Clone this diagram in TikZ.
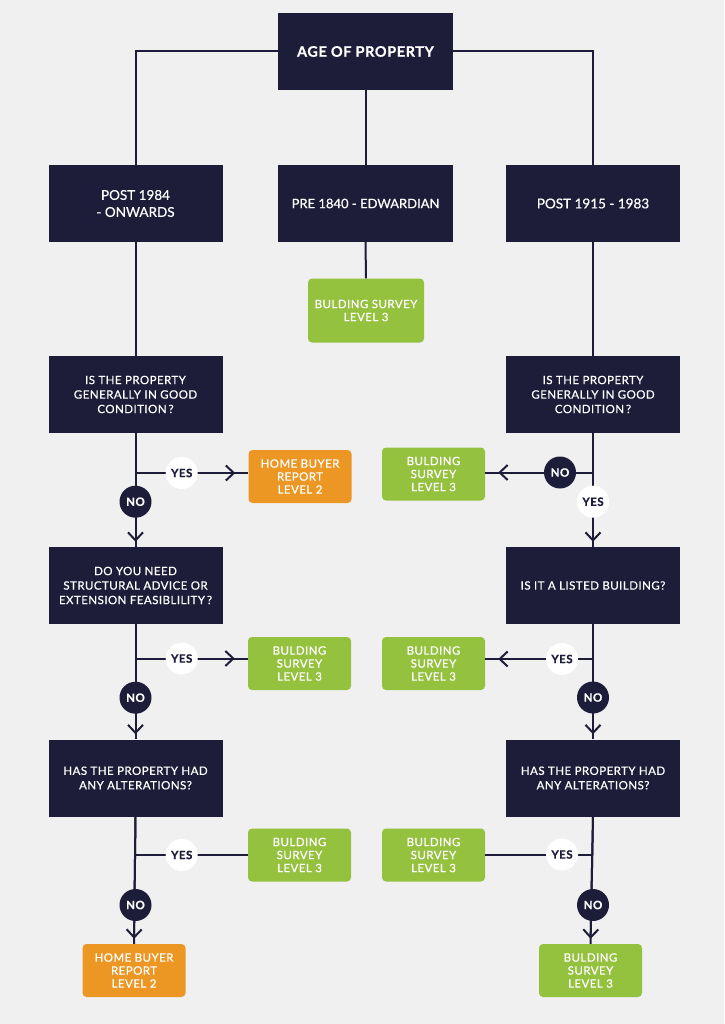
\documentclass[tikz,border=0pt]{standalone}
\usepackage{fontspec}
\setmainfont{Lato}
\newfontfamily\boxfont{Lato}[LetterSpace=4,FakeBold=0.6]
\newfontfamily\topfont{Lato}[FakeBold=0.6]
\usetikzlibrary{arrows.meta}
\definecolor{navy}{HTML}{1D1C39}
\definecolor{lgreen}{HTML}{94C13E}
\definecolor{orng}{HTML}{EC9624}
\definecolor{bgc}{HTML}{F0F0F0}
\tikzset{
  darkbox/.style={fill=navy, text=white, minimum width=174pt, minimum height=77pt, align=center, inner sep=0pt, font=\boxfont\fontsize{11.5}{14.5}\selectfont},
  topbox/.style={darkbox, font=\topfont\fontsize{13.5}{17}\selectfont},
  greenbox/.style={fill=lgreen, text=white, rounded corners=4pt, minimum width=103pt, minimum height=53pt, align=center, inner sep=0pt, font=\boxfont\fontsize{11.5}{13}\selectfont},
  orangebox/.style={greenbox, fill=orng},
  yescirc/.style={circle, fill=white, text=navy, minimum size=32pt, inner sep=0pt, font=\boxfont\bfseries\fontsize{11.5}{12}\selectfont},
  nocirc/.style={yescirc, fill=navy, text=white},
  conn/.style={draw=navy, line width=2pt},
  arrh/.style={postaction={draw=navy, line width=2pt, -{Straight Barb[length=8pt,width=15pt]}, shorten >=13pt}},
  arrv/.style={postaction={draw=navy, line width=2pt, -{Straight Barb[length=8pt,width=15pt]}, shorten >=5pt}}
}
\begin{document}
\begin{tikzpicture}[x=1pt,y=-1pt]
\fill[bgc] (0,0) rectangle (724,1024);
\useasboundingbox (0,0) rectangle (724,1024);

% boxes
\node[darkbox, font=\boxfont\bfseries\fontsize{14.5}{17}\selectfont, minimum width=175pt] (age) at (365.5,51.5) {AGE OF PROPERTY};
\node[topbox] (post84) at (135.5,203.5) {POST 1984\\- ONWARDS};
\node[topbox, minimum width=175pt, font=\topfont\fontsize{13}{17}\selectfont] (pre40) at (365.5,203.5) {PRE 1840 - EDWARDIAN};
\node[topbox] (post15) at (593,203.5) {POST 1915 - 1983};
\node[greenbox, minimum width=116pt, minimum height=64pt] (bs0) at (366,310.5) {BULDING SURVEY\\LEVEL 3};

\node[darkbox] (q1l) at (135.5,394.5) {IS THE PROPERTY\\GENERALLY IN GOOD\\CONDITION\,?};
\node[darkbox] (q1r) at (593,394.5) {IS THE PROPERTY\\GENERALLY IN GOOD\\CONDITION\,?};
\node[orangebox] (hb1) at (300,476.5) {HOME BUYER\\REPORT\\LEVEL 2};
\node[greenbox] (bsr1) at (433.5,474) {BULDING\\SURVEY\\LEVEL 3};

\node[darkbox] (q2l) at (135.5,585.5) {DO YOU NEED\\STRUCTURAL ADVICE OR\\EXTENSION FEASIBLILITY\,?};
\node[darkbox] (q2r) at (593,585.5) {IS IT A LISTED BUILDING?};
\node[greenbox] (bsl2) at (299.5,663.5) {BULDING\\SURVEY\\LEVEL 3};
\node[greenbox] (bsr2) at (433.5,663.5) {BULDING\\SURVEY\\LEVEL 3};

\node[darkbox] (q3l) at (135.5,778) {HAS THE PROPERTY HAD\\ANY ALTERATIONS?};
\node[darkbox] (q3r) at (593,778) {HAS THE PROPERTY HAD\\ANY ALTERATIONS?};
\node[greenbox] (bsl3) at (299.5,855) {BULDING\\SURVEY\\LEVEL 3};
\node[greenbox] (bsr3) at (433.5,855) {BULDING\\SURVEY\\LEVEL 3};

\node[orangebox] (hb4) at (134,970.5) {HOME BUYER\\REPORT\\LEVEL 2};
\node[greenbox] (bsr4) at (590.5,970.5) {BULDING\\SURVEY\\LEVEL 3};

% junctions
\coordinate (j1l) at (135.5,473);
\coordinate (j1r) at (593,472.5);
\coordinate (j2l) at (135.5,658.5);
\coordinate (j2r) at (593,659);
\coordinate (j3l) at (135.5,855);
\coordinate (j3r) at (593,854.5);

% connectors
\draw[conn] (age.west) -| (post84.north);
\draw[conn] (age.east) -| (post15.north);
\draw[conn] (age.south) -- (pre40.north);
\draw[conn] (pre40.south) -- (bs0.north);
\draw[conn] (post84.south) -- (q1l.north);
\draw[conn] (post15.south) -- (q1r.north);

\draw[conn, arrv] (q1l.south) -- (q2l.north);
\draw[conn, arrv] (q2l.south) -- (q3l.north);
\draw[conn, arrv] (q3l.south) -- (hb4.north);
\draw[conn, arrv] (q1r.south) -- (q2r.north);
\draw[conn, arrv] (q2r.south) -- (q3r.north);
\draw[conn, arrv] (q3r.south) -- (bsr4.north);

\draw[conn, arrh] (j1l) -- (hb1.west |- j1l);
\draw[conn, arrh] (j1r) -- (bsr1.east |- j1r);
\draw[conn, arrh] (j2l) -- (bsl2.west |- j2l);
\draw[conn, arrh] (j2r) -- (bsr2.east |- j2r);
\draw[conn] (j3l) -- (bsl3.west |- j3l);
\draw[conn] (j3r) -- (bsr3.east |- j3r);

% labels
\node[yescirc] (y1l) at (181.7,473) {YES};
\node[nocirc] (n1l) at (135.5,501.7) {NO};
\node[nocirc] (n1r) at (560,472.5) {NO};
\node[yescirc] (y1r) at (593,501.7) {YES};

\node[yescirc] (y2l) at (181.7,658.5) {YES};
\node[nocirc] (n2l) at (135.5,697.7) {NO};
\node[yescirc] (y2r) at (562,659) {YES};
\node[nocirc] (n2r) at (593,697.5) {NO};

\node[yescirc] (y3l) at (181.7,855) {YES};
\node[nocirc] (n3l) at (135.5,905) {NO};
\node[yescirc] (y3r) at (562,854.5) {YES};
\node[nocirc] (n3r) at (593,905) {NO};
\end{tikzpicture}
\end{document}
